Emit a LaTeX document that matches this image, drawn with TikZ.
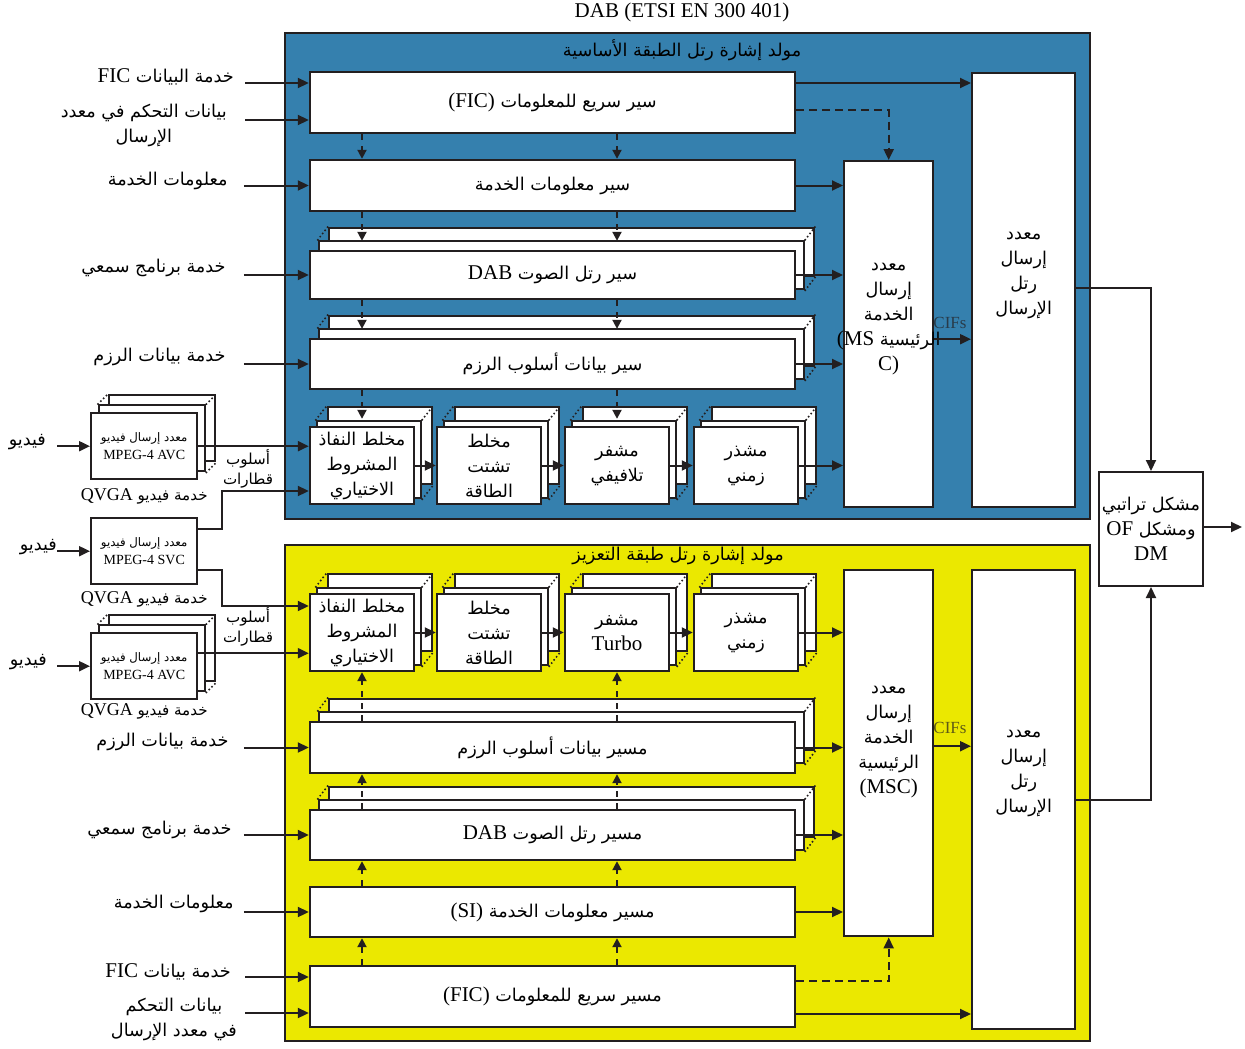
\documentclass[tikz,border=0pt]{standalone}
\usepackage{fontspec}
\setmainfont{Liberation Serif}
\newfontfamily\arabicfont[Script=Arabic,Scale=0.84]{DejaVu Sans}
\TeXXeTstate=1
\usepackage{tikz}
\usetikzlibrary{arrows.meta, positioning, calc, shadows}
\definecolor{ink}{RGB}{35,31,32}
\definecolor{baseblue}{RGB}{53,128,174}
\definecolor{enhyellow}{RGB}{235,232,0}
\newcommand\artext[1]{{\arabicfont\beginR #1\endR}}
\newcommand\lattext[1]{\beginL{\rmfamily #1}\endL}

\begin{document}
\begin{tikzpicture}[
  x=1pt, y=-1pt,
  font=\fontsize{21}{25}\selectfont,
  frame/.style={draw=ink, line width=2pt, inner sep=0pt, minimum width=805pt, anchor=north west},
  blk/.style={draw=ink, fill=white, line width=2.4pt, inner sep=0pt, align=center},
  wide/.style={blk, minimum width=485pt},
  unit/.style={blk, minimum width=104pt, minimum height=77pt},
  tall/.style={blk, minimum width=89pt, anchor=north west},
  vid/.style={blk, minimum width=106pt, minimum height=66pt, font=\fontsize{14}{18}\selectfont},
  sheet/.style={draw=ink, fill=white, line width=2.4pt},
  dots/.style n args={4}{append after command={
      ([shift={(#1,#2)}]\tikzlastnode.north west) edge[more] ([shift={(#3,#4)}]\tikzlastnode.north west)
      ([shift={(#1,#2)}]\tikzlastnode.north east) edge[more] ([shift={(#3,#4)}]\tikzlastnode.north east)
      ([shift={(#1,#2)}]\tikzlastnode.south east) edge[more] ([shift={(#3,#4)}]\tikzlastnode.south east)}},
  more/.style={draw=ink, line width=2.2pt, line cap=round, dash pattern=on 0pt off 4pt},
  stack/.style={copy shadow={sheet, shadow xshift=19pt, shadow yshift=23pt},
                copy shadow={sheet, shadow xshift=9pt, shadow yshift=10pt},
                dots={9pt}{10pt}{19pt}{23pt}},
  ustack/.style={copy shadow={sheet, shadow xshift=18pt, shadow yshift=20pt},
                 copy shadow={sheet, shadow xshift=7pt, shadow yshift=6pt},
                 dots={7pt}{6pt}{18pt}{20pt}},
  vstack/.style={copy shadow={sheet, shadow xshift=18pt, shadow yshift=18pt},
                 copy shadow={sheet, shadow xshift=8pt, shadow yshift=8pt},
                 dots={8pt}{8pt}{18pt}{18pt}},
  lbl/.style={align=center, inner sep=0pt},
  small/.style={lbl, font=\fontsize{18}{20}\selectfont},
  cif/.style={inner sep=0pt, font=\fontsize{17}{19}\selectfont, text=ink, text opacity=0.7},
  arr/.style={-{Triangle[length=11pt,width=10pt]}, line width=2pt, draw=ink},
  darr/.style={arr, dash pattern=on 8pt off 5pt},
  tarr/.style={-{Triangle[length=9pt,width=9pt]}, line width=2pt, draw=ink, dash pattern=on 6pt off 6pt}
]
  \useasboundingbox (0,0) rectangle (1245,1049);

  \node[frame, fill=baseblue, minimum height=486pt] (base) at (284,32) {};
  \node[frame, fill=enhyellow, minimum height=496pt] (enh) at (284,544) {};

  \node (std) at (682,12) {DAB (ETSI EN 300 401)};
  \node (basettl) at (682,50) {\artext{مولد إشارة رتل الطبقة الأساسية}};

  % base layer
  \node[wide, minimum height=61pt] (fic) at (552.5,102.5) {\artext{سير سريع للمعلومات \lattext{(FIC)}}};
  \node[wide, minimum height=51pt, below=24.6pt of fic] (si) {\artext{سير معلومات الخدمة}};
  \node[wide, stack, minimum height=48pt, below=37.6pt of si] (aud) {\artext{سير رتل الصوت \lattext{DAB}}};
  \node[wide, stack, minimum height=50pt, below=37.6pt of aud] (pkt) {\artext{سير بيانات أسلوب الرزم}};
  \node[unit, ustack, below right=35.6pt and 0pt of pkt.south west] (ca) {\artext{مخلط النفاذ}\\\artext{المشروط}\\\artext{الاختياري}};
  \node[unit, ustack, right=20.6pt of ca] (ed) {\artext{مخلط}\\\artext{تشتت}\\\artext{الطاقة}};
  \node[unit, ustack, right=21.6pt of ed] (cc) {\artext{مشفر}\\\artext{تلافيفي}};
  \node[unit, ustack, right=22.6pt of cc] (ti) {\artext{مشذر}\\\artext{زمني}};
  \node[tall, minimum height=346pt,
        label={[lbl, yshift=15pt]center:{\artext{معدد}\\\artext{إرسال}\\\artext{الخدمة}\\\artext{الرئيسية \lattext{(MS}}\\C)}}] (msc) at (843,160) {};
  \node[tall, minimum width=103pt, minimum height=434pt,
        label={[lbl, yshift=15pt]center:{\artext{معدد}\\\artext{إرسال}\\\artext{رتل}\\\artext{الإرسال}}}] (tfm) at (971,72) {};

  % enhancement layer
  \node (enhttl) at (678,556) {\artext{مولد إشارة رتل طبقة التعزيز}};
  \node[wide, minimum height=61pt] (yfic) at (552.5,996.5) {\artext{مسير سريع للمعلومات \lattext{(FIC)}}};
  \node[wide, minimum height=50pt, above=26.6pt of yfic] (ysi) {\artext{مسير معلومات الخدمة \lattext{(SI)}}};
  \node[wide, stack, minimum height=50pt, above=24.6pt of ysi] (yaud) {\artext{مسير رتل الصوت \lattext{DAB}}};
  \node[wide, stack, minimum height=51pt, above=34.6pt of yaud] (ypkt) {\artext{مسير بيانات أسلوب الرزم}};
  \node[unit, ustack, above right=48.6pt and 0pt of ypkt.north west] (yca) {\artext{مخلط النفاذ}\\\artext{المشروط}\\\artext{الاختياري}};
  \node[unit, ustack, right=20.6pt of yca] (yed) {\artext{مخلط}\\\artext{تشتت}\\\artext{الطاقة}};
  \node[unit, ustack, right=21.6pt of yed] (yt) {\artext{مشفر}\\Turbo};
  \node[unit, ustack, right=22.6pt of yt] (yti) {\artext{مشذر}\\\artext{زمني}};
  \node[tall, minimum height=366pt,
        label={[lbl, yshift=11pt]center:{\artext{معدد}\\\artext{إرسال}\\\artext{الخدمة}\\\artext{الرئيسية}\\(MSC)}}] (ymsc) at (843,569) {};
  \node[tall, minimum width=103pt, minimum height=459pt,
        label={[lbl, yshift=26pt]center:{\artext{معدد}\\\artext{إرسال}\\\artext{رتل}\\\artext{الإرسال}}}] (ytfm) at (971,569) {};

  \node[blk, line width=2pt, minimum width=104pt, minimum height=114pt] (ofdm) at (1151,529)
       {\artext{مشكل تراتبي}\\\artext{ومشكل \lattext{OF}}\\DM};

  % video encoders
  \node[vid, vstack, anchor=north west] (enc1) at (90,412) {\artext{معدد إرسال فيديو}\\MPEG-4 AVC};
  \node[vid, below=36.6pt of enc1] (enc2) {\artext{معدد إرسال فيديو}\\MPEG-4 SVC};
  \node[vid, vstack, below=46.6pt of enc2] (enc3) {\artext{معدد إرسال فيديو}\\MPEG-4 AVC};
  \node[small, below=8pt of enc1] (q1) {\artext{خدمة فيديو \lattext{QVGA}}};
  \node[small, below=6pt of enc2] (q2) {\artext{خدمة فيديو \lattext{QVGA}}};
  \node[small, below=3pt of enc3] (q3) {\artext{خدمة فيديو \lattext{QVGA}}};
  \node[small] (mode1) at (248,469) {\artext{أسلوب}\\\artext{قطارات}};
  \node[small] (mode2) at (248,627) {\artext{أسلوب}\\\artext{قطارات}};

  \coordinate (v1) at ([xshift=-33pt]enc1.west);
  \coordinate (v2) at ([xshift=-33pt]enc2.west);
  \coordinate (v3) at ([xshift=-33pt]enc3.west);
  \node[lbl, left=11pt of v1, yshift=4pt] (vin1) {\artext{فيديو}};
  \node[lbl, left=0pt of v2, yshift=4pt] (vin2) {\artext{فيديو}};
  \node[lbl, left=10pt of v3, yshift=4pt] (vin3) {\artext{فيديو}};
  \draw[arr] (v1) -- (enc1.west);
  \draw[arr] (v2) -- (enc2.west);
  \draw[arr] (v3) -- (enc3.west);

  \draw[arr] (enc1.east) -- (enc1.east -| ca.west);
  \coordinate (e2a) at ([yshift=22pt]enc2.east);
  \coordinate (k1) at (222,491);
  \draw[arr] (e2a) -| (k1) -- (k1 -| ca.west);
  \coordinate (e2b) at ([yshift=-19pt]enc2.east);
  \coordinate (k2) at (222,606);
  \draw[arr] (e2b) -| (k2) -- (k2 -| yca.west);
  \coordinate (e3) at ([yshift=13pt]enc3.east);
  \draw[arr] (e3) -- (e3 -| yca.west);

  % base layer inputs
  \coordinate (i1) at (245,83);
  \coordinate (i2) at (245,120);
  \coordinate (i3) at ([xshift=-65pt]si.west);
  \coordinate (i4) at ([xshift=-65pt]aud.west);
  \coordinate (i5) at ([xshift=-65pt]pkt.west);
  \node[lbl, left=11pt of i1, yshift=6pt] (l1) {\artext{خدمة البيانات \lattext{FIC}}};
  \node[lbl, left=18pt of i2, yshift=-5pt] (l2) {\artext{بيانات التحكم في معدد}\\\artext{الإرسال}};
  \node[lbl, left=16pt of i3, yshift=5pt] (l3) {\artext{معلومات الخدمة}};
  \node[lbl, left=18pt of i4, yshift=7pt] (l4) {\artext{خدمة برنامج سمعي}};
  \node[lbl, left=18pt of i5, yshift=7pt] (l5) {\artext{خدمة بيانات الرزم}};
  \draw[arr] (i1) -- (i1 -| fic.west);
  \draw[arr] (i2) -- (i2 -| fic.west);
  \draw[arr] (i3) -- (si.west);
  \draw[arr] (i4) -- (aud.west);
  \draw[arr] (i5) -- (pkt.west);

  % enhancement layer inputs
  \coordinate (j1) at ([xshift=-65pt]ypkt.west);
  \coordinate (j2) at ([xshift=-65pt]yaud.west);
  \coordinate (j3) at ([xshift=-65pt]ysi.west);
  \coordinate (j4) at (245,977);
  \coordinate (j5) at (245,1013);
  \node[lbl, left=15pt of j1, yshift=6pt] (m1) {\artext{خدمة بيانات الرزم}};
  \node[lbl, left=12pt of j2, yshift=5pt] (m2) {\artext{خدمة برنامج سمعي}};
  \node[lbl, left=10pt of j3, yshift=8pt] (m3) {\artext{معلومات الخدمة}};
  \node[lbl, left=14pt of j4, yshift=5pt] (m4) {\artext{خدمة بيانات \lattext{FIC}}};
  \node[lbl, left=8pt of j5, yshift=-6pt] (m5) {\artext{بيانات التحكم}\\\artext{في معدد الإرسال}};
  \draw[arr] (j1) -- (ypkt.west);
  \draw[arr] (j2) -- (yaud.west);
  \draw[arr] (j3) -- (ysi.west);
  \draw[arr] (j4) -- (j4 -| yfic.west);
  \draw[arr] (j5) -- (j5 -| yfic.west);

  % base layer flow
  \draw[tarr] (fic.south -| ca) -- (si.north -| ca);
  \draw[tarr] (fic.south -| cc) -- (si.north -| cc);
  \draw[tarr, shorten >=9pt] (si.south -| ca) -- (aud.north -| ca);
  \draw[tarr, shorten >=9pt] (si.south -| cc) -- (aud.north -| cc);
  \draw[tarr, shorten >=9pt] (aud.south -| ca) -- (pkt.north -| ca);
  \draw[tarr, shorten >=9pt] (aud.south -| cc) -- (pkt.north -| cc);
  \draw[tarr, shorten >=7pt] (pkt.south -| ca) -- (ca.north);
  \draw[tarr, shorten >=7pt] (pkt.south -| cc) -- (cc.north);
  \draw[arr] (ca) -- (ed);
  \draw[arr] (ed) -- (cc);
  \draw[arr] (cc) -- (ti);
  \draw[arr] (ti.east) -- (ti.east -| msc.west);
  \draw[arr] (pkt.east) -- (pkt.east -| msc.west);
  \draw[arr] (aud.east) -- (aud.east -| msc.west);
  \draw[arr] (si.east) -- (si.east -| msc.west);
  \coordinate (f1) at ([yshift=19.5pt]fic.east);
  \coordinate (f2) at ([yshift=-7.5pt]fic.east);
  \draw[arr] (f1) -- (f1 -| tfm.west);
  \draw[darr] (f2) -| (msc.north);
  \coordinate (c1) at ([yshift=-5pt]msc.east);
  \draw[arr] (c1) -- (c1 -| tfm.west);
  \node[cif] (cifs1) at (950,323) {CIFs};

  % enhancement layer flow
  \draw[tarr] (yfic.north -| yca) -- (ysi.south -| yca);
  \draw[tarr] (yfic.north -| yt) -- (ysi.south -| yt);
  \draw[tarr] (ysi.north -| yca) -- (yaud.south -| yca);
  \draw[tarr] (ysi.north -| yt) -- (yaud.south -| yt);
  \draw[tarr] (yaud.north -| yca) -- (ypkt.south -| yca);
  \draw[tarr] (yaud.north -| yt) -- (ypkt.south -| yt);
  \draw[tarr] (ypkt.north -| yca) -- (yca.south);
  \draw[tarr] (ypkt.north -| yt) -- (yt.south);
  \draw[arr] (yca) -- (yed);
  \draw[arr] (yed) -- (yt);
  \draw[arr] (yt) -- (yti);
  \draw[arr] (yti.east) -- (yti.east -| ymsc.west);
  \draw[arr] (ypkt.east) -- (ypkt.east -| ymsc.west);
  \draw[arr] (yaud.east) -- (yaud.east -| ymsc.west);
  \draw[arr] (ysi.east) -- (ysi.east -| ymsc.west);
  \coordinate (g1) at ([yshift=15.5pt]yfic.east);
  \coordinate (g2) at ([yshift=-17.5pt]yfic.east);
  \draw[darr] (g1) -| (ymsc.south);
  \draw[arr] (g2) -- (g2 -| ytfm.west);
  \coordinate (c2) at ([yshift=7pt]ymsc.east);
  \draw[arr] (c2) -- (c2 -| ytfm.west);
  \node[cif] (cifs2) at (950,728) {CIFs};

  % output
  \draw[arr] ([yshift=2pt]tfm.east) -| (ofdm.north);
  \draw[arr] (ytfm.east) -| (ofdm.south);
  \coordinate (out) at (1242,527);
  \draw[arr] ([yshift=2pt]ofdm.east) -- (out);
\end{tikzpicture}
\end{document}
